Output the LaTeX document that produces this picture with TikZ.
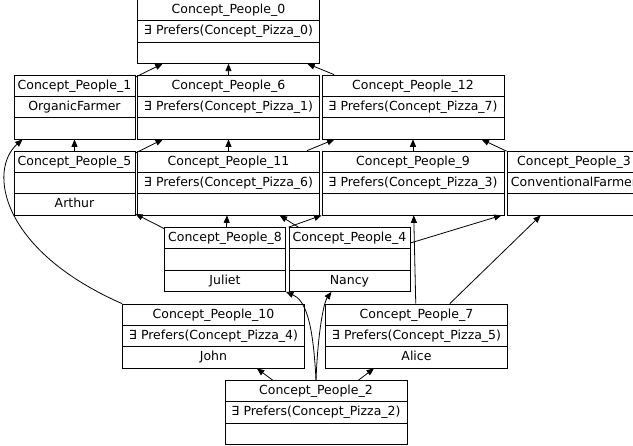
\documentclass[tikz,border=0pt]{standalone}
\usepackage{fontspec}
\setmainfont{DejaVu Sans}
\usetikzlibrary{shapes.multipart,arrows.meta}

\newcommand\rowstrut{\rule[-4.8pt]{0pt}{16.5pt}}
\newcommand\conceptrows[3]{\rowstrut#1\nodepart{two}\rowstrut#2\nodepart{three}\rowstrut#3}

\tikzset{
  concept/.style={draw,rectangle split,rectangle split parts=3,inner xsep=2pt,inner ysep=2pt,
    align=center,font=\fontsize{12.5}{15}\selectfont,line width=0.8pt},
  wide/.style={concept,text width=178pt},
  narrow/.style={concept,text width=117pt},
  link/.style={-{Triangle[length=7.5pt,width=6pt]},line width=0.8pt},
}

\begin{document}
\begin{tikzpicture}[x=1pt,y=-1pt]
\useasboundingbox (0,0) rectangle (633,446);

\node[wide] (n0) at (228.5,31.3) {\conceptrows{Concept\_People\_0}{∃ Prefers(Concept\_Pizza\_0)}{}};

\node[narrow] (n1) at (74.5,107) {\conceptrows{Concept\_People\_1}{OrganicFarmer}{}};
\node[wide] (n6) at (228.5,107) {\conceptrows{Concept\_People\_6}{∃ Prefers(Concept\_Pizza\_1)}{}};
\node[wide] (n12) at (413,107) {\conceptrows{Concept\_People\_12}{∃ Prefers(Concept\_Pizza\_7)}{}};

\node[narrow] (n5) at (74.5,183) {\conceptrows{Concept\_People\_5}{}{Arthur}};
\node[wide] (n11) at (228.5,183) {\conceptrows{Concept\_People\_11}{∃ Prefers(Concept\_Pizza\_6)}{}};
\node[wide] (n9) at (413,183) {\conceptrows{Concept\_People\_9}{∃ Prefers(Concept\_Pizza\_3)}{}};
\node[concept,text width=130pt] (n3) at (574,183) {\conceptrows{Concept\_People\_3}{ConventionalFarmer}{}};

\node[narrow] (n8) at (225,259.5) {\conceptrows{Concept\_People\_8}{}{Juliet}};
\node[narrow] (n4) at (349.5,259.5) {\conceptrows{Concept\_People\_4}{}{Nancy}};

\node[wide] (n10) at (213.5,336) {\conceptrows{Concept\_People\_10}{∃ Prefers(Concept\_Pizza\_4)}{John}};
\node[wide] (n7) at (416.5,336) {\conceptrows{Concept\_People\_7}{∃ Prefers(Concept\_Pizza\_5)}{Alice}};

\node[wide] (n2) at (316,412.5) {\conceptrows{Concept\_People\_2}{∃ Prefers(Concept\_Pizza\_2)}{}};

\draw[link] (n1) -- (n0);
\draw[link] (n6) -- (n0);
\draw[link] (n12) -- (n0);
\draw[link] (n5) -- (n1);
\draw[link] (n5) -- (n6);
\draw[link] (n11) -- (n6);
\draw[link] (n11) -- (n12);
\draw[link] (n9) -- (n12);
\draw[link] (n3) -- (n12);
\draw[link] (n8) -- (n5);
\draw[link] (n8) -- (n11);
\draw[link] (n4) -- (n11);
\draw[link] (n4.north west) -- (n9.south west);
\draw[link] ([yshift=16.5pt]n4.east) -- ([xshift=-5pt]n3.south west);
\draw[link] (n7) -- (n9);
\draw[link] (n7) -- (n3);
\draw[link] (n10.north west) .. controls (0,250) and (-12,170) .. ([xshift=9pt]n1.south west);
\draw[link] (n2) -- (n10);
\draw[link] (n2) -- (n7);
\draw[link] (n2.north) .. controls (313,320) and (305,300) .. (n8.south east);
\draw[link] (n2.north) .. controls (318,330) and (324,302) .. ([xshift=-18pt]n4.south);
\end{tikzpicture}
\end{document}
